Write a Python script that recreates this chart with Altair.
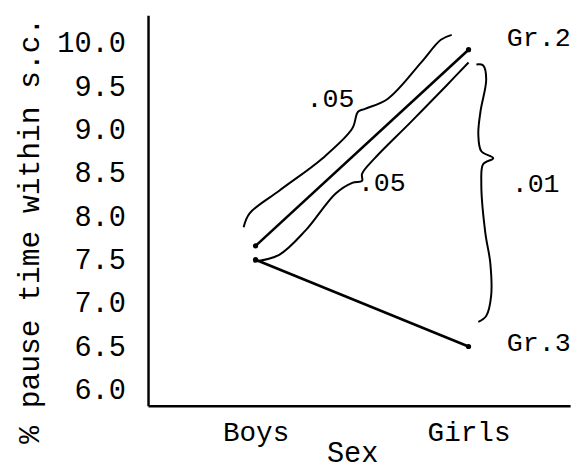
import altair as alt
import pandas as pd

# ---- data ----
sexes = ["Boys", "Girls"]
groups = ["Gr.2", "Gr.3"]
gr2_values = [7.66, 9.92]
gr3_values = [7.5, 6.5]
y_ticks = [6.0, 6.5, 7.0, 7.5, 8.0, 8.5, 9.0, 9.5, 10.0]

# braces (x in category units: Boys=0, Girls=1; y in % units)
brace1_x = [-0.056, -0.028, 0.111, 0.315, 0.454, 0.481, 0.514, 0.620, 0.778, 0.870, 0.921]
brace1_y = [7.875, 8.034, 8.295, 8.670, 9.011, 9.205, 9.239, 9.352, 9.773, 10.034, 10.091]
brace2_x = [-0.009, 0.111, 0.236, 0.375, 0.454, 0.500, 0.500, 0.560, 0.731, 0.898, 1.000]
brace2_y = [7.477, 7.557, 7.841, 8.261, 8.386, 8.409, 8.489, 8.670, 9.091, 9.511, 9.773]
brace3_x = [1.037, 1.069, 1.083, 1.056, 1.046, 1.060, 1.116, 1.069, 1.060, 1.079, 1.102, 1.106, 1.083, 1.046]
brace3_y = [9.750, 9.739, 9.580, 9.205, 8.943, 8.750, 8.670, 8.602, 8.375, 7.807, 7.466, 7.080, 6.852, 6.784]

note_text = [".05", ".05", ".01", "Gr.2", "Gr.3"]
note_x = [0.352, 0.593, 1.315, 1.33, 1.33]
note_y = [9.352, 8.386, 8.375, 10.057, 6.534]

FONT = "Courier New, Liberation Mono, monospace"

# ---- tables ----
rows = []
for g, vals in zip(groups, [gr2_values, gr3_values]):
    for i, (s, v) in enumerate(zip(sexes, vals)):
        rows.append({"group": g, "sex": s, "x": i, "y": v})
df = pd.DataFrame(rows)

brows = []
for b, (bx, by) in enumerate([(brace1_x, brace1_y), (brace2_x, brace2_y), (brace3_x, brace3_y)]):
    for i, (xv, yv) in enumerate(zip(bx, by)):
        brows.append({"brace": b, "i": i, "x": xv, "y": yv})
bdf = pd.DataFrame(brows)

ndf = pd.DataFrame({"text": note_text, "x": note_x, "y": note_y})

label_expr = "datum.value == 0 ? '%s' : '%s'" % (sexes[0], sexes[1])

xscale = alt.Scale(domain=[-0.505, 1.477], nice=False, zero=False)
yscale = alt.Scale(domain=[5.818, 10.318], nice=False, zero=False)

X = alt.X("x:Q", scale=xscale, axis=alt.Axis(
    values=[0, 1], labelExpr=label_expr, title="Sex",
    labelFont=FONT, labelFontSize=28, labelColor="black",
    labelPadding=35, labelBaseline="alphabetic",
    ticks=False, tickSize=0, grid=False,
    domainColor="black", domainWidth=2.5,
    titleFont=FONT, titleFontSize=29, titleFontWeight="normal", titleColor="black",
    titleX=207, titleY=57, titleAlign="center", titleBaseline="alphabetic"))

Y = alt.Y("y:Q", scale=yscale, axis=alt.Axis(
    values=y_ticks, format=".1f", title="% pause time within s.c.",
    labelFont=FONT, labelFontSize=29, labelColor="black",
    labelPadding=23, ticks=False, tickSize=0, grid=False,
    domainColor="black", domainWidth=2.5,
    titleFont=FONT, titleFontSize=30, titleFontWeight="normal", titleColor="black",
    titleX=-120, titleY=218, titleAngle=270, titleAlign="center", titleBaseline="middle"))

lines = alt.Chart(df).mark_line(color="black", strokeWidth=2.6).encode(
    x=X, y=Y, detail="group:N")
points = alt.Chart(df).mark_point(filled=True, color="black", size=28, opacity=1).encode(
    x=X, y=Y)
braces = alt.Chart(bdf).mark_line(color="black", strokeWidth=2, interpolate="catmull-rom").encode(
    x=X, y=Y, detail="brace:N", order="i:Q")
notes = alt.Chart(ndf).mark_text(font=FONT, fontSize=27, color="black",
                                 align="center", baseline="middle").encode(
    x=X, y=Y, text="text:N")

chart = alt.layer(lines, points, braces, notes).properties(
    width=428, height=396,
    autosize=alt.AutoSizeParams(type="none"),
    padding={"left": 142, "top": 4, "right": 8, "bottom": 65},
).configure_view(strokeWidth=0)

chart.save("out.html", embed_options={"renderer": "svg", "actions": False})
